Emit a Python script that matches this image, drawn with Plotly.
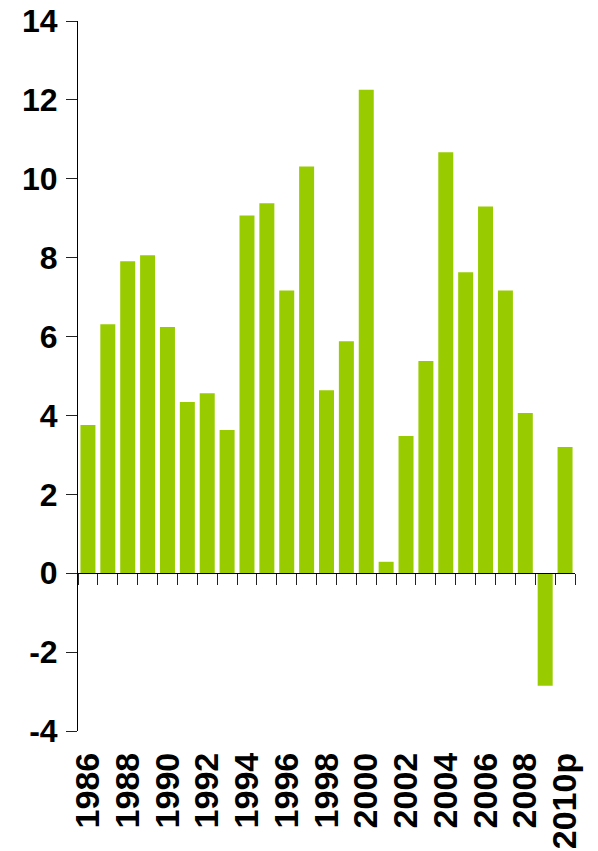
import plotly.graph_objects as go

years = ["1986", "1987", "1988", "1989", "1990", "1991", "1992", "1993", "1994",
         "1995", "1996", "1997", "1998", "1999", "2000", "2001", "2002", "2003",
         "2004", "2005", "2006", "2007", "2008", "2009", "2010p"]
growth = [3.76, 6.31, 7.91, 8.06, 6.24, 4.34, 4.56, 3.63, 9.07,
          9.38, 7.17, 10.31, 4.64, 5.88, 12.26, 0.29, 3.48, 5.38,
          10.67, 7.63, 9.30, 7.17, 4.06, -2.85, 3.20]
tick_labels = ["1986", "1988", "1990", "1992", "1994", "1996", "1998", "2000",
               "2002", "2004", "2006", "2008", "2010p"]
y_ticks = [-4, -2, 0, 2, 4, 6, 8, 10, 12, 14]
y_tick_text = ["-4", "-2", "0", "2", "4", "6", "8", "10", "12", "14"]

FONT = "Liberation Sans, Arial, sans-serif"
y_min, y_max = -4, 14

fig = go.Figure()
fig.add_trace(go.Bar(
    x=years, y=growth, marker=dict(color="#99cc00", line=dict(width=0)),
    xaxis="x", yaxis="y", hoverinfo="x+y",
))
# invisible trace to carry the zero-line category axis
fig.add_trace(go.Scatter(
    x=years, y=growth, mode="markers", marker=dict(opacity=0),
    xaxis="x2", yaxis="y", hoverinfo="skip", showlegend=False,
))

fig.update_layout(
    width=598, height=851,
    margin=dict(l=70, r=31, t=13, b=128),
    paper_bgcolor="white", plot_bgcolor="white",
    showlegend=False, bargap=0.245,
    font=dict(family=FONT, size=32, color="black"),
    xaxis=dict(
        type="category", categoryorder="array", categoryarray=years,
        range=[-0.5, len(years) - 0.5], automargin=False,
        tickmode="array", tickvals=tick_labels, ticktext=tick_labels,
        tickangle=-90, ticks="", ticklabelstandoff=14, ticklabeloverflow="allow",
        showline=False, showgrid=False, zeroline=False,
        tickfont=dict(family=FONT, size=34, color="black", weight="bold"),
    ),
    xaxis2=dict(
        type="category", categoryorder="array", categoryarray=years,
        range=[-0.5, len(years) - 0.5], automargin=False,
        overlaying="x", anchor="free", position=(0 - y_min) / (y_max - y_min),
        side="bottom", showticklabels=False, tickson="boundaries",
        ticks="outside", ticklen=11, tickwidth=1, tickcolor="#222",
        showline=True, linecolor="black", linewidth=1,
        showgrid=False, zeroline=False,
    ),
    yaxis=dict(
        range=[y_min, y_max], tickmode="array", tickvals=y_ticks,
        ticktext=y_tick_text, automargin=False, ticklabeloverflow="allow",
        ticklabelstandoff=2,
        ticks="outside", ticklen=11, tickwidth=1, tickcolor="#222",
        showline=True, linecolor="black", linewidth=1,
        showgrid=False, zeroline=False,
        tickfont=dict(family=FONT, size=32, color="black", weight="bold"),
    ),
)

fig.write_html("out.html")
